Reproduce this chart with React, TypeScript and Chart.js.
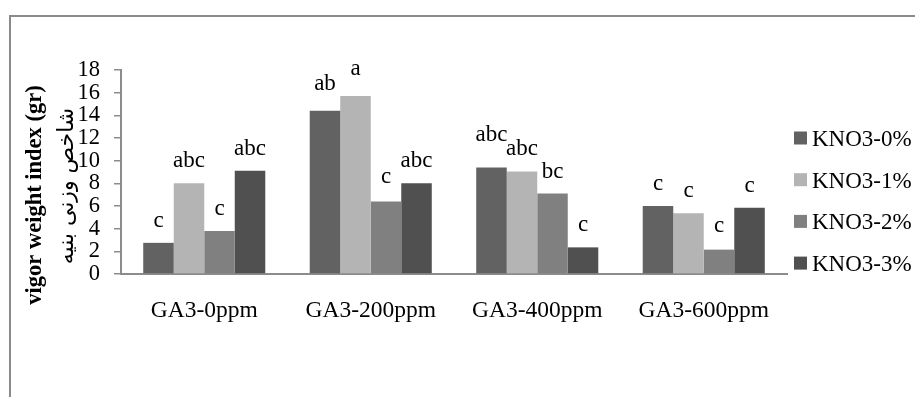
import React, { useEffect, useRef } from "react";
import { Chart, registerables } from "chart.js";

Chart.register(...registerables);

const categories = ["GA3-0ppm", "GA3-200ppm", "GA3-400ppm", "GA3-600ppm"];
const seriesNames = ["KNO3-0%", "KNO3-1%", "KNO3-2%", "KNO3-3%"];
const kno3_0 = [2.75, 14.4, 9.4, 6.0];
const kno3_1 = [8.0, 15.7, 9.05, 5.35];
const kno3_2 = [3.8, 6.4, 7.1, 2.15];
const kno3_3 = [9.1, 8.0, 2.35, 5.85];
const letters0 = ["c", "ab", "abc", "c"];
const letters1 = ["abc", "a", "abc", "c"];
const letters2 = ["c", "c", "bc", "c"];
const letters3 = ["abc", "abc", "c", "c"];
const yTicks = [0, 2, 4, 6, 8, 10, 12, 14, 16, 18];
const yTitleEn = "vigor weight index (gr)";
const yTitleFa = "شاخص وزنی بنیه";

// extra lift (px) of individual letter labels, per series then category
const letterLift = [
  [0, 5, 10, 0],
  [0, 5, 0, 0],
  [0, 2, 0, 2],
  [0, 0, 0, 0],
];

const colors = ["#626262", "#b4b4b4", "#808080", "#505050"];
const seriesValues = [kno3_0, kno3_1, kno3_2, kno3_3];
const seriesLetters = [letters0, letters1, letters2, letters3];
const SERIF = "'Liberation Serif', 'Times New Roman', serif";
const AXIS = "#8c8c8c";

const lettersPlugin = {
  id: "letters",
  afterDatasetsDraw(chart: any) {
    const ctx = chart.ctx;
    ctx.save();
    ctx.font = `23px ${SERIF}`;
    ctx.fillStyle = "#000";
    ctx.textAlign = "center";
    ctx.textBaseline = "alphabetic";
    chart.data.datasets.forEach((ds: any, di: number) => {
      const meta = chart.getDatasetMeta(di);
      meta.data.forEach((bar: any, i: number) => {
        const txt = seriesLetters[di][i];
        ctx.fillText(txt, bar.x, bar.y - 16 - letterLift[di][i]);
      });
    });
    ctx.restore();
  },
};

const titlePlugin = {
  id: "ytitles",
  afterDraw(chart: any) {
    const ctx = chart.ctx;
    const area = chart.chartArea;
    ctx.save();
    ctx.fillStyle = "#000";
    ctx.textAlign = "center";
    ctx.textBaseline = "middle";
    // English bold title
    ctx.save();
    ctx.translate(35, 195);
    ctx.rotate(-Math.PI / 2);
    ctx.font = `bold 22.5px ${SERIF}`;
    ctx.fillText(yTitleEn, 0, 0);
    ctx.restore();
    // Persian title
    ctx.save();
    ctx.translate(67, 186);
    ctx.rotate(-Math.PI / 2);
    ctx.font = `16px 'DejaVu Sans'`;
    const w = ctx.measureText(yTitleFa).width;
    const size = Math.max(10, Math.min(22, (16 * 168) / w));
    ctx.font = `${size}px 'DejaVu Sans'`;
    ctx.direction = "rtl";
    ctx.fillText(yTitleFa, 0, 0);
    ctx.restore();
    // legend
    ctx.font = `23px ${SERIF}`;
    ctx.textAlign = "left";
    ctx.textBaseline = "alphabetic";
    chart.data.datasets.forEach((ds: any, di: number) => {
      const cy = 138 + di * 41.7;
      ctx.fillStyle = ds.backgroundColor;
      ctx.fillRect(area.right + 7, cy - 6.5, 13, 13);
      ctx.fillStyle = "#000";
      ctx.fillText(ds.label, area.right + 25, cy + 8);
    });
    ctx.restore();
  },
};

export default function App() {
  const ref = useRef<HTMLCanvasElement | null>(null);
  useEffect(() => {
    if (!ref.current) return;
    const chart = new Chart(ref.current, {
      type: "bar",
      data: {
        labels: categories,
        datasets: seriesNames.map((name, i) => ({
          label: name,
          data: seriesValues[i],
          backgroundColor: colors[i],
          borderWidth: 0,
          categoryPercentage: 0.733,
          barPercentage: 1.0,
        })),
      },
      options: {
        animation: false,
        responsive: false,
        devicePixelRatio: 1,
        layout: {
          autoPadding: false,
          padding: { left: 0, right: 128, top: 70, bottom: 53 },
        },
        plugins: {
          legend: { display: false },
          tooltip: { enabled: false },
        },
        scales: {
          x: {
            grid: { display: false },
            border: { display: true, color: AXIS, width: 2 },
            ticks: {
              font: { family: SERIF, size: 23.5 },
              color: "#000",
              padding: 15,
              maxRotation: 0,
              autoSkip: false,
            },
            afterFit: (s: any) => {
              s.height = 70;
            },
          },
          y: {
            min: 0,
            max: 18,
            afterBuildTicks: (s: any) => {
              s.ticks = yTicks.map((v) => ({ value: v }));
            },
            grid: {
              display: true,
              drawOnChartArea: false,
              drawTicks: true,
              tickLength: 7,
              color: AXIS,
              lineWidth: 1.5,
            },
            border: { display: true, color: AXIS, width: 2 },
            ticks: {
              font: { family: SERIF, size: 22.5 },
              color: "#000",
              padding: 14,
              autoSkip: false,
            },
            afterFit: (s: any) => {
              s.width = 121;
            },
          },
        },
      },
      plugins: [lettersPlugin, titlePlugin],
    });
    return () => chart.destroy();
  }, []);

  return (
    <div
      style={{
        position: "fixed",
        left: 0,
        top: 0,
        width: 915,
        height: 397,
        overflow: "hidden",
        background: "#fff",
      }}
    >
      <div
        style={{
          position: "absolute",
          left: 9,
          top: 15,
          width: 1200,
          height: 800,
          borderTop: "2px solid #8a8a8a",
          borderLeft: "2px solid #8a8a8a",
        }}
      />
      <canvas
        ref={ref}
        width={915}
        height={397}
        style={{ position: "absolute", left: 0, top: 0, width: 915, height: 397 }}
      />
    </div>
  );
}
